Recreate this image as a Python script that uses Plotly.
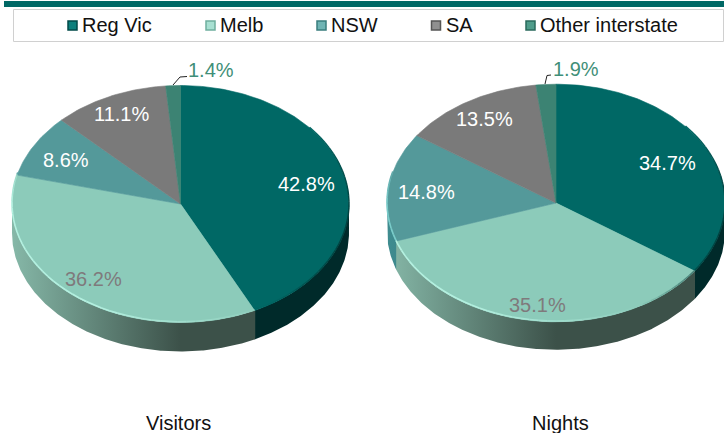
import math
import plotly.graph_objects as go

# ---- data ----
categories = ["Reg Vic", "Melb", "NSW", "SA", "Other interstate"]
visitors = [42.8, 36.2, 8.6, 11.1, 1.4]
nights = [34.7, 35.1, 14.8, 13.5, 1.9]
pie_titles = ["Visitors", "Nights"]

# ---- styling ----
top_colors = ["#006865", "#8ccbba", "#54999a", "#7a7a7a", "#3c8373"]
wall_edge = ["#002a2a", "#86b8a8", "#3f8c90", "#555555", "#2c5f54"]
wall_dark = ["#002a2a", "#3c5149", "#2c5c5e", "#444444", "#244f46"]
rim_light = ["#00524f", "#b4f0e0", "#7accca", "#999999", "#5aa090"]
label_colors = ["#ffffff", "#7f7a7c", "#ffffff", "#ffffff", "#3f8f78"]
legend_outer = ["#004a48", "#6fae9e", "#3a7d7e", "#555555", "#2a6a5c"]
legend_inner = ["#0c7f7c", "#a8e0d2", "#6fb4b4", "#909090", "#4f9c8a"]

pies = [
    dict(values=visitors, cx=180.5, cy=204.0, rx=168.5, ry=118.5, depth=29,
         label_xy=[(306, 184), (93, 279), (66, 160), (121, 114), (211, 70)],
         title_x=178, leader=[(173, 85), (180, 77), (187, 76.5)]),
    dict(values=nights, cx=556.0, cy=203.0, rx=169.0, ry=118.8, depth=28,
         label_xy=[(667, 163), (537, 305), (426, 192), (484, 119), (576, 69)],
         title_x=560, leader=[(545, 84), (547, 75.5), (551, 75)]),
]
legend_marker_x = [72.5, 210.5, 321.5, 436, 530.5]
legend_text_x = [80, 218, 329, 444, 538]

FONT = "Liberation Sans, Arial, sans-serif"
FS = 20


def hex2rgb(h):
    return tuple(int(h[i:i + 2], 16) for i in (1, 3, 5))


def mix(a, b, t):
    ra, rb = hex2rgb(a), hex2rgb(b)
    return "rgb(%d,%d,%d)" % tuple(round(x + (y - x) * t) for x, y in zip(ra, rb))


def pt(p, theta, dy=0.0):
    r = math.radians(theta)
    return p["cx"] + p["rx"] * math.sin(r), p["cy"] - p["ry"] * math.cos(r) + dy


def arc(p, a, b, dy=0.0, step=1.0):
    n = max(2, int(abs(b - a) / step) + 1)
    return [pt(p, a + (b - a) * i / (n - 1), dy) for i in range(n)]


fig = go.Figure()


def poly(points, color, width=0.6, gradient=None):
    kw = dict(fillcolor=color)
    if gradient:
        kw = dict(fillgradient=gradient)
    fig.add_trace(go.Scatter(
        x=[q[0] for q in points] + [points[0][0]],
        y=[q[1] for q in points] + [points[0][1]],
        mode="lines", fill="toself",
        line=dict(color=color, width=width),
        hoverinfo="skip", showlegend=False, **kw))


def line(points, color, width):
    fig.add_trace(go.Scatter(
        x=[q[0] for q in points], y=[q[1] for q in points],
        mode="lines", line=dict(color=color, width=width, shape="linear"),
        hoverinfo="skip", showlegend=False))


annotations = []

for p in pies:
    total = sum(p["values"])
    cum = [0.0]
    for v in p["values"]:
        cum.append(cum[-1] + v / total * 360.0)
    spans = list(zip(cum[:-1], cum[1:]))

    # side wall with a left-to-right gradient (each overlaps the previous slightly)
    left = p["cx"] - p["rx"]
    right = p["cx"] + p["rx"]
    frac = (p["cx"] - left) / (right - left)
    for i, (a, b) in enumerate(spans):
        lo, hi = max(a - 0.25, 90.0), min(b, 270.0)
        if lo >= hi:
            continue
        outline = arc(p, lo, hi, 0.0, 0.5) + arc(p, hi, lo, p["depth"], 0.5)
        grad = dict(type="horizontal", start=left, stop=right,
                    colorscale=[[0, wall_edge[i]], [frac, wall_dark[i]], [1, wall_dark[i]]])
        poly(outline, "rgba(0,0,0,0)", 0, grad)

    # top face
    for i, (a, b) in enumerate(spans):
        poly([(p["cx"], p["cy"])] + arc(p, a, b), top_colors[i])

    # bevel along the rim: light at lower left, dark at right
    for i, (a, b) in enumerate(spans):
        lo, hi = max(a, 150.0), min(b, 285.0)
        k = lo
        while k < hi:
            e = min(k + 3.0, hi)
            m = (k + e) / 2
            fade = min(1.0, max(0.0, (m - 150.0) / 60.0)) * min(1.0, (290.0 - m) / 20.0)
            line(arc(p, k, e, -0.8, 1.0), mix(top_colors[i], rim_light[i], fade), 1.6)
            k = e
        lo, hi = max(a, 50.0), min(b, 150.0)
        k = lo
        while k < hi:
            e = min(k + 3.0, hi)
            m = (k + e) / 2
            fade = math.sin(math.radians((m - 50.0) * 1.8)) * 0.75
            line(arc(p, k, e, -0.5, 1.0), mix(top_colors[i], "#003533", fade), 1.4)
            k = e

    # leader line for the smallest slice
    line(p["leader"], "#222222", 1.0)

    # value labels
    for i, v in enumerate(p["values"]):
        annotations.append(dict(
            x=p["label_xy"][i][0], y=p["label_xy"][i][1], text=f"{v:.1f}%",
            xref="x", yref="y", showarrow=False, xanchor="center", yanchor="middle",
            font=dict(family=FONT, size=FS, color=label_colors[i])))

for p, title in zip(pies, pie_titles):
    annotations.append(dict(
        x=p["title_x"], y=432, text=title, xref="x", yref="y", showarrow=False,
        xanchor="center", yanchor="bottom", borderpad=0, yshift=-2.5,
        font=dict(family=FONT, size=FS, color="#111111")))

# legend
for i, name in enumerate(categories):
    fig.add_trace(go.Scatter(
        x=[legend_marker_x[i]], y=[25.5], mode="markers",
        marker=dict(symbol="square", size=9, color=legend_inner[i],
                    line=dict(color=legend_outer[i], width=1.5)),
        hoverinfo="skip", showlegend=False))
    annotations.append(dict(
        x=legend_text_x[i], y=25, text=name, xref="x", yref="y", showarrow=False,
        xanchor="left", yanchor="middle",
        font=dict(family=FONT, size=FS, color="#111111")))

shapes = [
    dict(type="rect", xref="x", yref="y", x0=4, x1=724, y0=1, y1=7,
         fillcolor="#006865", line=dict(width=0), layer="below"),
    dict(type="rect", xref="x", yref="y", x0=13.5, x1=723.5, y0=9.5, y1=41.5,
         fillcolor="#ffffff", line=dict(color="#d0d0d0", width=1), layer="below"),
]

fig.update_layout(
    width=724, height=433, margin=dict(l=0, r=0, t=0, b=0),
    paper_bgcolor="#ffffff", plot_bgcolor="#ffffff",
    xaxis=dict(range=[0, 724], visible=False, fixedrange=True),
    yaxis=dict(range=[433, 0], visible=False, fixedrange=True),
    showlegend=False, annotations=annotations, shapes=shapes,
)

fig.write_html("out.html", config={"displayModeBar": False},
               post_script="document.body.style.margin='0';document.body.style.overflow='hidden';")
